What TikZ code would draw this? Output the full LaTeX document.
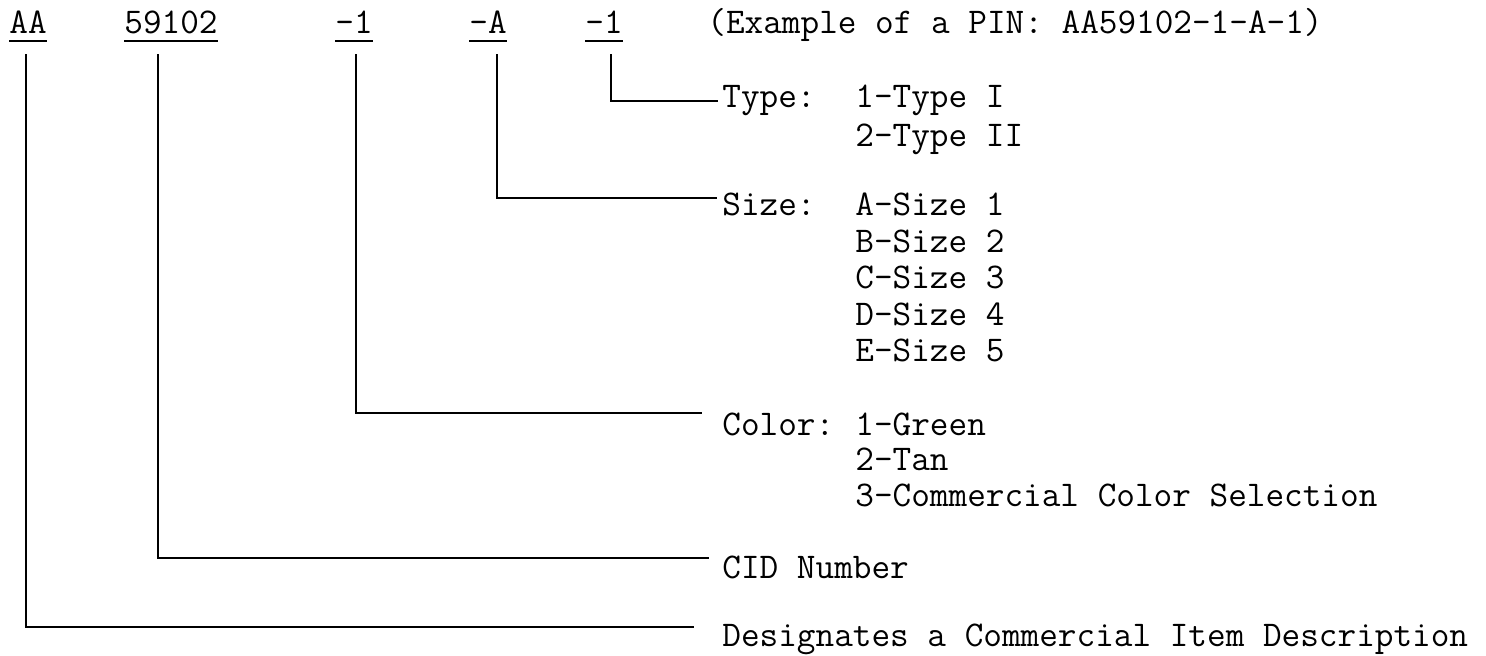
\documentclass[tikz,border=0pt]{standalone}
\usepackage{fontspec}
\usetikzlibrary{positioning,calc}

\begin{document}
\begin{tikzpicture}[
				x=0.5pt, y=-0.5pt,
				font=\ttfamily\fontsize{18.1pt}{20pt}\selectfont,
				line cap=butt,
				line join=miter
				]
				% Styles
				\tikzset{
					part/.style={inner sep=0pt, text depth=4pt, anchor=base west},
					lbl/.style={inner sep=0pt, anchor=base west},
					uline/.style={draw=black, line width=1pt},
					lead/.style={draw=black, line width=1pt}
				}
				\useasboundingbox (0,0) rectangle (1486,655);
				
				% ===== PIN parts (top row) =====
				\node[part] (AA)  at (9, 33)   {AA};
				\node[part] (CID) at (124, 33) {59102};
				\node[part] (C1)  at (335, 33) {-1};
				\node[part] (SZ)  at (469, 33) {-A};
				\node[part] (T1)  at (585, 33) {-1};
				\node[lbl]  (EX)  at (707, 33) {(Example of a PIN: AA59102-1-A-1)};
				
				\draw[uline] (AA.south west)  -- (AA.south east);
				\draw[uline] (CID.south west) -- (CID.south east);
				\draw[uline] (C1.south west)  -- (C1.south east);
				\draw[uline] (SZ.south west)  -- (SZ.south east);
				\draw[uline] (T1.south west)  -- (T1.south east);
				
				% ===== Descriptions =====
				\node[lbl] (Ltype)  at (722, 107) {Type:};
				\node[lbl] (Vtype1) at (855, 107) {1-Type I};
				\node[lbl] (Vtype2) at (855, 146) {2-Type II};
				
				\node[lbl] (Lsize)  at (722, 215) {Size:};
				\node[lbl] (Vsize1) at (855, 215) {A-Size 1};
				\node[lbl] (Vsize2) at (855, 252) {B-Size 2};
				\node[lbl] (Vsize3) at (855, 288) {C-Size 3};
				\node[lbl] (Vsize4) at (855, 325) {D-Size 4};
				\node[lbl] (Vsize5) at (855, 361) {E-Size 5};
				
				\node[lbl] (Lcolor)  at (722, 435) {Color:};
				\node[lbl] (Vcolor1) at (855, 435) {1-Green};
				\node[lbl] (Vcolor2) at (855, 470) {2-Tan};
				\node[lbl] (Vcolor3) at (855, 506) {3-Commercial Color Selection};
				
				\node[lbl] (Lcid) at (722, 578) {CID Number};
				\node[lbl] (Ldes) at (722, 646) {Designates a Commercial Item Description};
				
				% ===== Leader ends (just left of each label) =====
				\coordinate (typeEnd)  at (718, 101);
				\coordinate (sizeEnd)  at (717, 198);
				\coordinate (colorEnd) at (702, 413);
				\coordinate (cidEnd)   at (709, 558);
				\coordinate (desEnd)   at (694, 627);
				
				% ===== Leaders =====
				\draw[lead] ([xshift=3.5pt, yshift=-6.5pt]T1.south)  |- (typeEnd);
				\draw[lead] ([xshift=4.5pt, yshift=-6.5pt]SZ.south)  |- (sizeEnd);
				\draw[lead] ([xshift=1pt, yshift=-6.5pt]C1.south)    |- (colorEnd);
				\draw[lead] ([xshift=-6.25pt, yshift=-6.5pt]CID.south) |- (cidEnd);
				\draw[lead] ([xshift=-1pt, yshift=-6.5pt]AA.south)   |- (desEnd);
				
			\end{tikzpicture}
\end{document}
